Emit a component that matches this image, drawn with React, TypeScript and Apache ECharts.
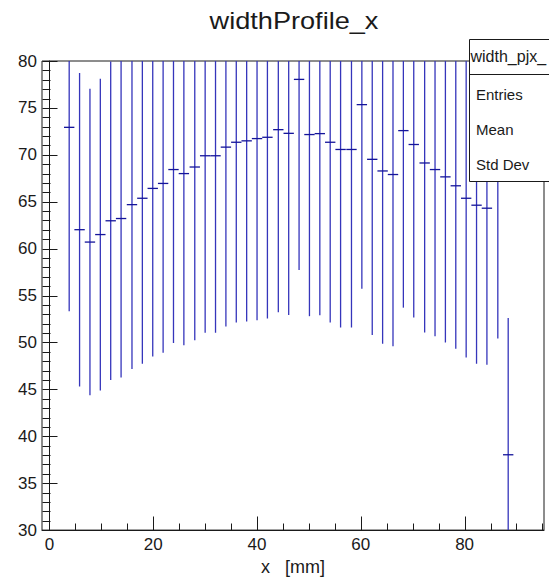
import React, { useEffect, useRef } from "react";
import * as echarts from "echarts";

// bin centres (mm)
const xCenters = [
  3.8, 5.8, 7.8, 9.8, 11.8, 13.8, 15.9, 17.9, 19.9, 21.9, 23.9, 25.9, 28.0, 30.0,
  32.0, 34.0, 36.0, 38.0, 40.0, 42.0, 44.1, 46.1, 48.1, 50.1, 52.1, 54.1, 56.1,
  58.2, 60.2, 62.2, 64.2, 66.2, 68.2, 70.2, 72.3, 74.3, 76.3, 78.3, 80.3, 82.3,
  84.3, 86.4, 88.4,
];
// profile mean per bin
const means = [
  72.93, 62.02, 60.7, 61.5, 62.97, 63.21, 64.69, 65.37, 66.42, 66.95, 68.43, 68.0,
  68.7, 69.9, 69.9, 70.82, 71.34, 71.49, 71.73, 71.87, 72.68, 72.29, 78.04, 72.16,
  72.26, 71.34, 70.57, 70.57, 75.35, 69.52, 68.28, 67.9, 72.58, 71.1, 69.13, 68.43,
  67.65, 66.7, 65.37, 64.63, 64.31, 67.6, 38.03,
];
// symmetric error (half length of vertical bar)
const errors = [
  19.6, 16.71, 16.34, 16.61, 16.97, 16.95, 17.52, 17.64, 17.91, 18.05, 18.48, 18.3,
  18.47, 18.86, 18.86, 19.11, 19.21, 19.26, 19.35, 19.32, 19.46, 19.35, 20.32, 19.36,
  19.35, 19.21, 18.97, 18.97, 19.63, 18.72, 18.43, 18.3, 18.87, 18.44, 18.06, 17.78,
  17.66, 17.38, 16.97, 16.9, 16.68, 17.19, 14.59,
];

const xMajorTicks = [0, 20, 40, 60, 80];
const xMinorTicks = [5, 10, 15, 25, 30, 35, 45, 50, 55, 65, 70, 75, 85, 90, 95];
const yMajorTicks = [30, 35, 40, 45, 50, 55, 60, 65, 70, 75, 80];
const yMinorTicks = [
  31, 32, 33, 34, 36, 37, 38, 39, 41, 42, 43, 44, 46, 47, 48, 49, 51, 52, 53, 54,
  56, 57, 58, 59, 61, 62, 63, 64, 66, 67, 68, 69, 71, 72, 73, 74, 76, 77, 78, 79,
];

const X_MIN = -1.44;
const X_MAX = 95.3;
const Y_MIN = 30;
const Y_MAX = 80;
const HALF_BIN = 1.0;

const FONT = "Liberation Sans";
const INK = "#1a1a1a";
const BAR_COLOR = "#3535bb";
const MEAN_COLOR = "#14149a";

function tickSeries(values: number[], isX: boolean, len: number) {
  return {
    type: "custom",
    xAxisIndex: 0,
    yAxisIndex: 0,
    silent: true,
    clip: false,
    z: 5,
    data: values.map((v) => (isX ? [v, Y_MIN] : [X_MIN, v])),
    encode: { x: 0, y: 1 },
    renderItem: (params: any, api: any) => {
      const p = api.coord([api.value(0), api.value(1)]);
      const x1 = Math.round(p[0]) + 0.5;
      const y1 = Math.round(p[1]) + 0.5;
      return {
        type: "line",
        shape: isX
          ? { x1, y1, x2: x1, y2: y1 - len }
          : { x1, y1, x2: x1 + len, y2: y1 },
        style: { stroke: INK, lineWidth: 1 },
      };
    },
  };
}

export default function App() {
  const ref = useRef<HTMLDivElement>(null);

  useEffect(() => {
    if (!ref.current) return;
    const chart = echarts.init(ref.current, undefined, { renderer: "svg" });
    const data = xCenters.map((x, i) => [x, means[i], errors[i]]);

    chart.setOption({
      animation: false,
      backgroundColor: "#ffffff",
      grid: {
        left: 42,
        right: 5,
        top: 61,
        bottom: 47,
        show: true,
        borderColor: INK,
        borderWidth: 1,
        backgroundColor: "transparent",
      },
      xAxis: {
        type: "value",
        min: X_MIN,
        max: X_MAX,
        position: "bottom",
        splitLine: { show: false },
        axisLine: { show: true, lineStyle: { color: INK, width: 1 } },
        axisTick: { show: false },
        axisLabel: {
          customValues: xMajorTicks,
          margin: 6,
          fontSize: 17,
          color: INK,
          fontFamily: FONT,
        },
        name: "x   [mm]",
        nameLocation: "middle",
        nameGap: 26,
        nameTextStyle: { fontSize: 18, color: INK, fontFamily: FONT },
      },
      yAxis: {
        type: "value",
        min: Y_MIN,
        max: Y_MAX,
        position: "left",
        splitLine: { show: false },
        axisLine: { show: true, lineStyle: { color: INK, width: 1 } },
        axisTick: { show: false },
        axisLabel: {
          customValues: yMajorTicks,
          margin: 5,
          fontSize: 17,
          color: INK,
          fontFamily: FONT,
        },
      },
      series: [
        {
          type: "custom",
          xAxisIndex: 0,
          yAxisIndex: 0,
          data,
          encode: { x: 0, y: 1 },
          renderItem: (params: any, api: any) => {
            const x = api.value(0);
            const m = api.value(1);
            const e = api.value(2);
            const lo = Math.max(m - e, Y_MIN);
            const hi = Math.min(m + e, Y_MAX);
            const pLo = api.coord([x, lo]);
            const pHi = api.coord([x, hi]);
            const children: any[] = [
              {
                type: "line",
                shape: { x1: pLo[0], y1: pLo[1], x2: pHi[0], y2: pHi[1] },
                style: { stroke: BAR_COLOR, lineWidth: 1.3 },
              },
            ];
            if (m >= Y_MIN && m <= Y_MAX) {
              const pL = api.coord([x - HALF_BIN, m]);
              const pR = api.coord([x + HALF_BIN, m]);
              children.push({
                type: "line",
                shape: { x1: pL[0], y1: pL[1], x2: pR[0], y2: pR[1] },
                style: { stroke: MEAN_COLOR, lineWidth: 1.3 },
              });
            }
            return { type: "group", children };
          },
          z: 2,
        },
        tickSeries(xMajorTicks, true, 14),
        tickSeries(xMinorTicks, true, 7),
        tickSeries(yMajorTicks, false, 15),
        tickSeries(yMinorTicks, false, 8),
      ],
      graphic: [
        {
          type: "text",
          x: 294,
          y: 21,
          scaleX: 1.18,
          originX: 0,
          originY: 0,
          style: {
            text: "widthProfile_x",
            fontSize: 23,
            fontFamily: FONT,
            fill: INK,
            textAlign: "center",
            textVerticalAlign: "middle",
          },
          z: 100,
        },
        {
          type: "rect",
          shape: { x: 469.5, y: 39.5, width: 100, height: 142 },
          style: { fill: "#ffffff", stroke: INK, lineWidth: 1 },
          z: 100,
        },
        {
          type: "line",
          shape: { x1: 469.5, y1: 74.5, x2: 560, y2: 74.5 },
          style: { stroke: INK, lineWidth: 1 },
          z: 101,
        },
        {
          type: "text",
          x: 470.5,
          y: 56,
          style: {
            text: "width_pjx_",
            fontSize: 16,
            fontFamily: FONT,
            fill: INK,
            textAlign: "left",
            textVerticalAlign: "middle",
          },
          z: 101,
        },
        {
          type: "text",
          x: 476,
          y: 94.5,
          style: {
            text: "Entries",
            fontSize: 15,
            fontFamily: FONT,
            fill: INK,
            textAlign: "left",
            textVerticalAlign: "middle",
          },
          z: 101,
        },
        {
          type: "text",
          x: 476,
          y: 129.5,
          style: {
            text: "Mean",
            fontSize: 15,
            fontFamily: FONT,
            fill: INK,
            textAlign: "left",
            textVerticalAlign: "middle",
          },
          z: 101,
        },
        {
          type: "text",
          x: 476,
          y: 164,
          style: {
            text: "Std Dev",
            fontSize: 15,
            fontFamily: FONT,
            fill: INK,
            textAlign: "left",
            textVerticalAlign: "middle",
          },
          z: 101,
        },
      ],
    });

    return () => {
      chart.dispose();
    };
  }, []);

  return (
    <div
      ref={ref}
      style={{
        position: "fixed",
        left: 0,
        top: 0,
        width: 549,
        height: 581,
        background: "#fff",
      }}
    />
  );
}
